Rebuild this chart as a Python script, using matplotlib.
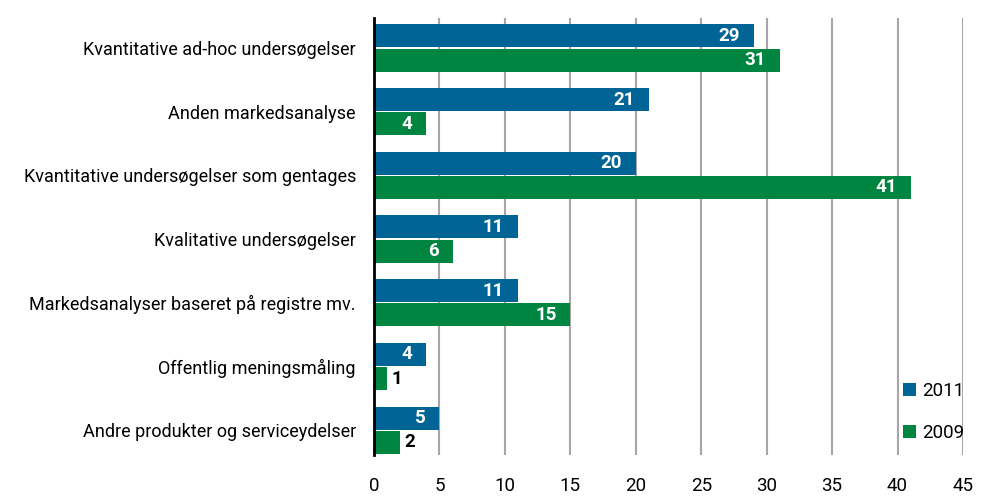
import matplotlib.pyplot as plt
import numpy as np

categories = ["Kvantitative ad-hoc undersøgelser", "Anden markedsanalyse",
              "Kvantitative undersøgelser som gentages", "Kvalitative undersøgelser",
              "Markedsanalyser baseret på registre mv.", "Offentlig meningsmåling",
              "Andre produkter og serviceydelser"]
values_2011 = [29, 21, 20, 11, 11, 4, 5]
values_2009 = [31, 4, 41, 6, 15, 1, 2]
xticks = [0, 5, 10, 15, 20, 25, 30, 35, 40, 45]

blue = "#006496"
green = "#008540"
plt.rcParams['font.family'] = ["Roboto", "DejaVu Sans"]

fig = plt.figure(figsize=(9.84, 4.98), dpi=100, facecolor='white')
ax = fig.add_axes([374/984, 1 - 455/498, (963-374)/984, (455-18)/498])

y = np.arange(len(categories))
h = 0.36
b1 = ax.barh(y - h/2 - 0.01, values_2011, height=h, color=blue, label="2011", zorder=3)
b2 = ax.barh(y + h/2 + 0.01, values_2009, height=h, color=green, label="2009", zorder=3)

for bars, vals in ((b1, values_2011), (b2, values_2009)):
    for bar, v in zip(bars, vals):
        yc = bar.get_y() + bar.get_height()/2
        if v >= 3:
            ax.annotate(str(v), (v, yc), xytext=(-10, 0), textcoords='offset points',
                        ha='right', va='center', color='white', fontsize=13.5, fontweight='bold', zorder=4)
        else:
            ax.annotate(str(v), (v, yc), xytext=(3, 0), textcoords='offset points',
                        ha='left', va='center', color='black', fontsize=13.5, fontweight='bold', zorder=4)

ax.set_xlim(0, 45)
ax.set_ylim(6.39, -0.47)
ax.set_yticks(y)
ax.set_yticklabels(categories, fontsize=13)
ax.set_xticks(xticks)
ax.set_xticklabels([str(t) for t in xticks], fontsize=13.5)
ax.tick_params(axis='both', length=0)
ax.tick_params(axis='x', pad=16)
ax.tick_params(axis='y', pad=13)
ax.grid(axis='x', color='#a6a6a6', linewidth=1.5, zorder=0)
for s in ['top', 'right', 'bottom']:
    ax.spines[s].set_visible(False)
ax.spines['left'].set_linewidth(2)
ax.spines['left'].set_zorder(5)

ax.legend(loc='lower right', bbox_to_anchor=(1.03, -0.01), frameon=False, fontsize=13.5,
          handlelength=0.7, handleheight=0.7, handletextpad=0.3, labelspacing=1.3)

plt.savefig("out.png", dpi=100, facecolor='white')
